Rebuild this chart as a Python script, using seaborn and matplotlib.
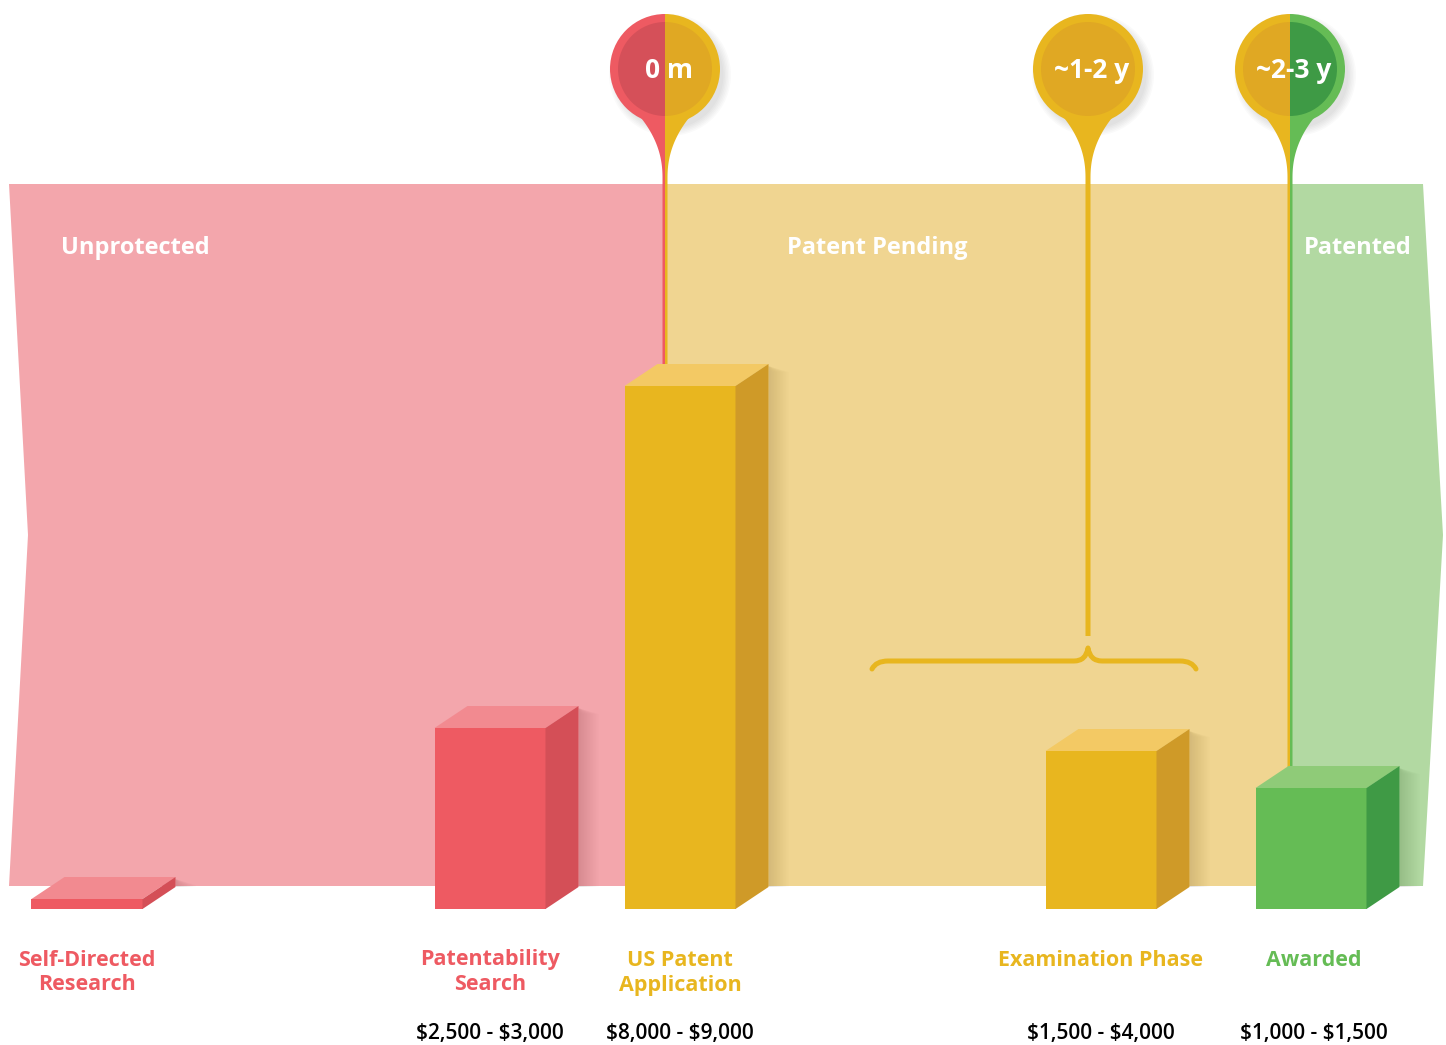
import numpy as np
import pandas as pd
import seaborn as sns
import matplotlib
matplotlib.use("Agg")
import matplotlib.pyplot as plt
from matplotlib.patches import Polygon, Wedge, Circle
from matplotlib.path import Path
from matplotlib.patches import PathPatch

# --- data -------------------------------------------------------------
stages = ["Self-Directed\nResearch", "Patentability\nSearch", "US Patent\nApplication",
          "Examination Phase", "Awarded"]
stage_x = [87, 490, 680, 1101, 1311]          # position along the timeline
relative_cost = [10, 181, 523, 158, 121]       # bar heights as drawn
cost_labels = ["", "$2,500 - $3,000", "$8,000 - $9,000", "$1,500 - $4,000", "$1,000 - $1,500"]
stage_phase = ["red", "red", "yellow", "yellow", "green"]

phases = ["Unprotected", "Patent Pending", "Patented"]
phase_edges = [9, 665, 1290, 1423]

milestones = ["0 m", "~1-2 y", "~2-3 y"]
milestone_x = [665, 1088, 1290]
milestone_colors = [("red", "yellow"), ("yellow", "yellow"), ("yellow", "green")]

# --- styles -----------------------------------------------------------
front = {"red": "#EE5A62", "yellow": "#E8B61F", "green": "#65BC55"}
side = {"red": "#D44F57", "yellow": "#CF9A28", "green": "#3F9A45"}
top = {"red": "#F28A90", "yellow": "#F3C964", "green": "#8FCB78"}
band = {"red": "#F3A6AC", "yellow": "#F0D591", "green": "#B2D9A2"}
pin_inner = {"red": "#D55059", "yellow": "#E0A823", "green": "#3E9A45"}

W, H = 1446, 1045
BASE = 909  # pixel row of the bar baseline
DX, DY = 33, 22


def py(p):
    # pixel row -> data y
    return BASE - p


sns.set_theme(style="white")
plt.rcParams["font.family"] = ["Open Sans", "DejaVu Sans"]
plt.rcParams["text.parse_math"] = False

fig = plt.figure(figsize=(W / 100, H / 100), dpi=100)
ax = fig.add_axes([0, 0, 1, 1])

# background phase bands
top_y, mid_y, bot_y = py(184), py(535), py(886)
for i, ph in enumerate(["red", "yellow", "green"]):
    x0, x1 = phase_edges[i], phase_edges[i + 1]
    if i == 0:
        pts = [(x0, top_y), (x1, top_y), (x1, bot_y), (x0, bot_y), (x0 + 19, mid_y)]
    elif i == 2:
        pts = [(x0, top_y), (x1, top_y), (x1 + 20, mid_y), (x1, bot_y), (x0, bot_y)]
    else:
        pts = [(x0, top_y), (x1, top_y), (x1, bot_y), (x0, bot_y)]
    ax.add_patch(Polygon(pts, closed=True, fc=band[ph], ec="none", zorder=1))

label_y = py(248)
ax.text(61, label_y, phases[0], color="white", fontsize=17, fontweight="bold",
        ha="left", va="center", zorder=2)
ax.text(877, label_y, phases[1], color="white", fontsize=17, fontweight="bold",
        ha="center", va="center", zorder=2)
ax.text(1358, label_y, phases[2], color="white", fontsize=17, fontweight="bold",
        ha="center", va="center", zorder=2)

# bars (front faces)
df = pd.DataFrame({"stage": stages, "x": stage_x, "cost": relative_cost, "phase": stage_phase})
sns.barplot(data=df, x="x", y="cost", hue="stage", native_scale=True, dodge=False,
            palette={s: front[p] for s, p in zip(stages, stage_phase)},
            width=111 / 190, saturation=1, legend=False, ax=ax, zorder=4)
ax.set_xlim(0, W)
ax.set_ylim(py(H), py(0))
ax.axis("off")

for patch in list(ax.patches):
    if not hasattr(patch, "get_width") or not hasattr(patch, "get_height"):
        continue
    x0 = patch.get_x()
    x1 = x0 + patch.get_width()
    h = patch.get_height()
    i = int(np.argmin([abs((x0 + x1) / 2 - s) for s in stage_x]))
    ph = stage_phase[i]
    patch.set_edgecolor("none")
    ax.add_patch(Polygon([(x0, h), (x1, h), (x1 + DX, h + DY), (x0 + DX, h + DY)],
                         fc=top[ph], ec="none", zorder=4))
    ax.add_patch(Polygon([(x1, 0), (x1 + DX, DY), (x1 + DX, h + DY), (x1, h)],
                         fc=side[ph], ec="none", zorder=4))
    # soft shadow to the right of the bar
    for k in range(14):
        ax.add_patch(Polygon([(x1 + DX, DY), (x1 + DX + 1 + k * 1.5, DY),
                              (x1 + DX + 1 + k * 1.5, h + DY - 8), (x1 + DX, h + DY - 2)],
                             fc="black", ec="none", alpha=0.006, zorder=3))

# stage names and costs (labels sit slightly right of the bar centre)
for i, s in enumerate(stages):
    lx = stage_x[i] + (3 if i == 4 else 0)
    for n, line in enumerate(s.split("\n")):
        ax.text(lx, py(960 + 25 * n), line, color=front[stage_phase[i]], fontsize=15.5,
                fontweight="bold", ha="center", va="center", zorder=5)
    if cost_labels[i]:
        ax.text(lx, py(1033), cost_labels[i], color="black", fontsize=15,
                fontweight="semibold", ha="center", va="center", zorder=5)

# milestone pins
R, RI = 55, 47
cy = py(69)
line_end = [py(364) - 5, py(636), py(766) - 5]


def stem(cx, sgn, end, color):
    ys = np.linspace(100, 178, 40)
    w = 2.5 + 38 * ((178 - ys) / 78) ** 2.2
    pts = [(cx, py(100))]
    pts += [(cx + sgn * wi, py(yi)) for wi, yi in zip(w, ys)]
    pts += [(cx + sgn * 2.5, end), (cx, end)]
    ax.add_patch(Polygon(pts, closed=True, fc=color, ec="none", zorder=2.5))


for j, label in enumerate(milestones):
    cx = milestone_x[j]
    lc, rc = milestone_colors[j]
    # drop shadow
    for k in range(6):
        ax.add_patch(Circle((cx + 5, cy - 6), R + 6 - k * 1.5, fc="black", ec="none",
                            alpha=0.018, zorder=2.2))
    stem(cx, -1, line_end[j], front[lc])
    stem(cx, 1, line_end[j], front[rc])
    ax.add_patch(Wedge((cx, cy), R, 90, 270, fc=front[lc], ec="none", zorder=2.6))
    ax.add_patch(Wedge((cx, cy), R, -90, 90, fc=front[rc], ec="none", zorder=2.6))
    ax.add_patch(Wedge((cx, cy), RI, 90, 270, fc=pin_inner[lc], ec="none", zorder=2.7))
    ax.add_patch(Wedge((cx, cy), RI, -90, 90, fc=pin_inner[rc], ec="none", zorder=2.7))
    ax.text(cx + 4, cy - 2, label, color="white", fontsize=19, fontweight="bold",
            ha="center", va="center", zorder=2.8)

# brace under the examination milestone
bx0, bx1, bxm = 872, 1196, 1088
yb, ye, yt = py(661), py(669), py(648)
verts = [(bx0, ye), (bx0 + 4, yb), (bx0 + 16, yb),
         (bxm - 14, yb), (bxm - 2, yb), (bxm, yt),
         (bxm + 2, yb), (bxm + 14, yb),
         (bx1 - 16, yb), (bx1 - 4, yb), (bx1, ye)]
codes = [Path.MOVETO, Path.CURVE3, Path.CURVE3,
         Path.LINETO, Path.CURVE3, Path.CURVE3,
         Path.CURVE3, Path.CURVE3,
         Path.LINETO, Path.CURVE3, Path.CURVE3]
ax.add_patch(PathPatch(Path(verts, codes), fc="none", ec=front["yellow"], lw=3.6,
                       capstyle="round", joinstyle="round", zorder=2.5))

fig.savefig("out.png", dpi=100)
